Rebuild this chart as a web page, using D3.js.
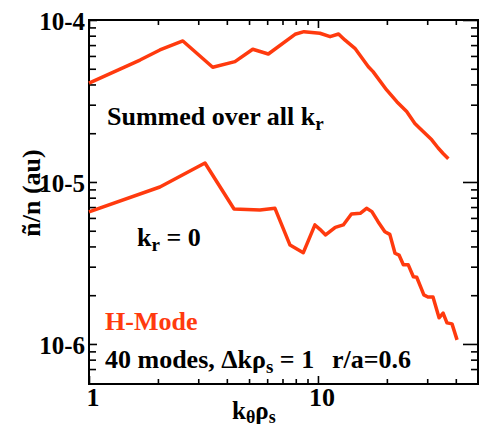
<!DOCTYPE html>
<html>
<head>
<script src="https://d3js.org/d3.v7.min.js"></script>
<style>
  body { margin: 0; background: #fff; }
  .axis path { display: none; }
  .axis line { stroke: #000; stroke-width: 1.6px; }
</style>
</head>
<body>
<svg id="chart" width="481" height="428" font-family="'Liberation Serif', 'DejaVu Serif', serif" font-weight="bold"></svg>
<script>
  // k_theta rho_s and density fluctuation, summed over all k_r
  const summedK = [1, 1.67, 2.04, 2.57, 3.47, 4.34, 5.19, 6.07, 7.94, 8.69, 10.2, 11.3, 12.3, 13.1,
    14.5, 16.6, 17.4, 19.95, 22.1, 24.4, 26.5, 27.9, 31.4, 33.5, 35.2, 37.1];
  const summedN = [4.08e-5, 5.66e-5, 6.53e-5, 7.42e-5, 5.11e-5, 5.53e-5, 6.6e-5, 6.17e-5, 8.16e-5,
    8.47e-5, 8.28e-5, 7.89e-5, 8.2e-5, 7.53e-5, 6.69e-5, 5.15e-5, 4.8e-5, 3.7e-5, 3.13e-5, 2.72e-5,
    2.3e-5, 2.14e-5, 1.82e-5, 1.62e-5, 1.5e-5, 1.39e-5];

  // k_r = 0 only
  const kr0K = [1, 2.04, 3.21, 4.3, 5.58, 6.49, 7.55, 8.63, 9.7, 10.2, 10.8, 11.9, 12.9, 14.0, 15.3,
    16.3, 17.2, 18.3, 19.6, 20.6, 21.7, 22.6, 23.6, 24.8, 26.1, 27.0, 28.2, 29.0, 30.2, 31.8, 33.8,
    35.2, 36.6, 38.5, 40.5];
  const kr0N = [6.53e-6, 9.31e-6, 1.31e-5, 6.81e-6, 6.72e-6, 6.88e-6, 4.08e-6, 3.66e-6, 5.43e-6,
    5.1e-6, 4.71e-6, 5.25e-6, 5.43e-6, 6.34e-6, 6.41e-6, 6.88e-6, 6.56e-6, 5.69e-6, 4.93e-6, 4.75e-6,
    3.63e-6, 3.54e-6, 3.08e-6, 3.08e-6, 2.6e-6, 2.58e-6, 2.22e-6, 2.01e-6, 1.95e-6, 1.95e-6, 1.45e-6,
    1.55e-6, 1.35e-6, 1.33e-6, 1.06e-6];

  const xMajor = [1, 10];
  const xMajorLabels = ["1", "10"];
  const xMinor = [2, 3, 4, 5, 6, 7, 8, 9, 20, 30, 40];
  const yMajor = [1e-4, 1e-5, 1e-6];
  const yMajorLabels = ["10-4", "10-5", "10-6"];
  const yMinor = [9e-5, 8e-5, 7e-5, 6e-5, 5e-5, 4e-5, 3e-5, 2e-5,
    9e-6, 8e-6, 7e-6, 6e-6, 5e-6, 4e-6, 3e-6, 2e-6, 9e-7, 8e-7, 7e-7];

  const red = "#ff3a0e";
  const pLeft = 89, pRight = 478, pTop = 20, pBottom = 384;

  const svg = d3.select("#chart");

  const x = d3.scaleLog().domain([1, 50]).range([pLeft, pRight]);
  const y = d3.scaleLog().domain([5.66e-7, 1e-4]).range([pBottom, pTop]);

  // frame
  svg.append("rect")
    .attr("x", pLeft).attr("y", pTop)
    .attr("width", pRight - pLeft).attr("height", pBottom - pTop)
    .attr("fill", "none").attr("stroke", "#000").attr("stroke-width", 2);

  // ticks, all pointing inward
  function ticks(axis, values, size, transform) {
    svg.append("g").attr("class", "axis").attr("transform", transform)
      .call(axis.tickValues(values).tickSize(-size).tickFormat(""));
  }
  ticks(d3.axisBottom(x), xMinor, 5, `translate(0,${pBottom})`);
  ticks(d3.axisBottom(x), xMajor, 8, `translate(0,${pBottom})`);
  ticks(d3.axisTop(x), xMinor, 5, `translate(0,${pTop})`);
  ticks(d3.axisTop(x), xMajor, 8, `translate(0,${pTop})`);
  ticks(d3.axisLeft(y), yMinor, 7, `translate(${pLeft},0)`);
  ticks(d3.axisLeft(y), yMajor, 8, `translate(${pLeft},0)`);
  ticks(d3.axisRight(y), yMinor, 7, `translate(${pRight},0)`);
  ticks(d3.axisRight(y), yMajor, 15, `translate(${pRight},0)`);

  // tick labels
  svg.selectAll(".xlab").data(xMajor).enter().append("text")
    .attr("class", "xlab")
    .attr("x", d => x(d) + 4).attr("y", 406)
    .attr("text-anchor", "middle").attr("font-size", 26)
    .text((d, i) => xMajorLabels[i]);

  svg.selectAll(".ylab").data(yMajor).enter().append("text")
    .attr("class", "ylab")
    .attr("x", pLeft - 4).attr("y", d => y(d) + 10)
    .attr("text-anchor", "end").attr("font-size", 25)
    .text((d, i) => yMajorLabels[i]);

  // axis titles
  const xt = svg.append("text").attr("x", 232).attr("y", 419).attr("font-size", 25);
  xt.append("tspan").text("k");
  xt.append("tspan").attr("dy", 4).attr("font-size", 18).text("θ");
  xt.append("tspan").attr("dy", -4).text("ρ");
  xt.append("tspan").attr("dy", 4).attr("font-size", 18).text("s");

  svg.append("text")
    .attr("transform", "translate(40,193) rotate(-90)")
    .attr("text-anchor", "middle").attr("font-size", 26)
    .text("ñ/n (au)");

  // curves
  const line = d3.line().x(d => x(d[0])).y(d => y(d[1]));
  [[summedK, summedN], [kr0K, kr0N]].forEach(([ks, ns]) => {
    svg.append("path")
      .datum(ks.map((k, i) => [k, ns[i]]))
      .attr("d", line)
      .attr("fill", "none")
      .attr("stroke", red)
      .attr("stroke-width", 3.5)
      .attr("stroke-linejoin", "round");
  });

  // annotations
  const a1 = svg.append("text").attr("x", 107).attr("y", 125).attr("font-size", 26);
  a1.append("tspan").text("Summed over all k");
  a1.append("tspan").attr("dy", 5).attr("font-size", 19).text("r");

  const a2 = svg.append("text").attr("x", 137).attr("y", 246).attr("font-size", 26);
  a2.append("tspan").text("k");
  a2.append("tspan").attr("dy", 5).attr("font-size", 19).text("r");
  a2.append("tspan").attr("dy", -5).text(" = 0");

  svg.append("text").attr("x", 105).attr("y", 330).attr("font-size", 26)
    .attr("fill", red).text("H-Mode");

  const a3 = svg.append("text").attr("x", 105).attr("y", 368).attr("font-size", 26);
  a3.append("tspan").text("40 modes, Δkρ");
  a3.append("tspan").attr("dy", 5).attr("font-size", 19).text("s");
  a3.append("tspan").attr("dy", -5).text(" = 1");
  a3.append("tspan").attr("x", 332).text("r/a=0.6");
</script>
</body>
</html>
